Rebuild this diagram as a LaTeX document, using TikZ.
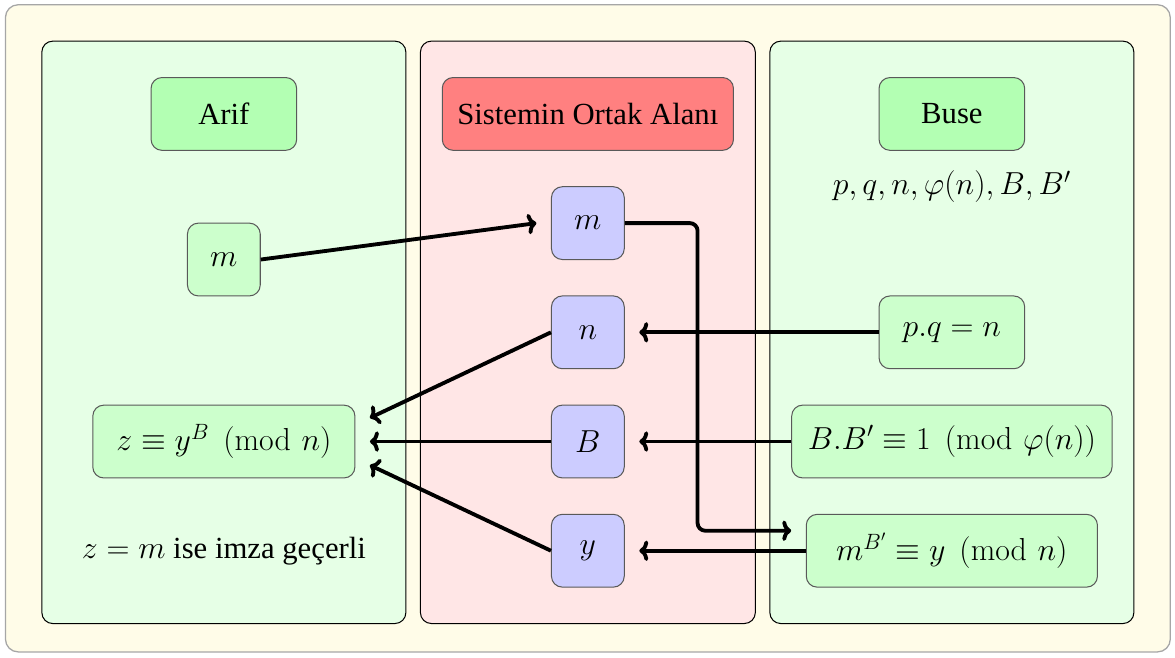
\documentclass[tikz,border=0pt]{standalone}
\usepackage{amsmath}
\usepackage[no-math]{fontspec}
\setmainfont{Liberation Serif}
\usetikzlibrary{calc,arrows.meta}
\definecolor{bgcream}{RGB}{255,252,232}
\definecolor{panelgreen}{RGB}{230,255,230}
\definecolor{panelred}{RGB}{255,230,230}
\definecolor{titlegreen}{RGB}{179,255,179}
\definecolor{titlered}{RGB}{255,128,128}
\definecolor{nodeblue}{RGB}{204,204,255}
\definecolor{nodegreen}{RGB}{204,255,204}
\begin{document}
\begin{tikzpicture}[
  every node/.style={font=\fontsize{24}{29}\selectfont},
  panel/.style={draw=black, line width=0.8pt, rounded corners=0.3cm},
  box/.style={draw=black!65, line width=0.8pt, rounded corners=0.3cm,
    minimum height=2cm, minimum width=2cm, inner sep=0pt},
  titleg/.style={box, fill=titlegreen, minimum width=4cm},
  titler/.style={box, fill=titlered, minimum width=8cm},
  bluebox/.style={box, fill=nodeblue},
  greenbox/.style={box, fill=nodegreen},
  arr/.style={line width=3pt, -{To[length=7pt,width=16pt]}},
]
\useasboundingbox (-16.15,3.13) rectangle (16.13,-14.92);
\draw[gray!70, line width=1pt, fill=bgcream, rounded corners=0.35cm] (-16,3) rectangle (16,-14.78);
\draw[panel, fill=panelgreen] (-15,2) rectangle (-5,-14);
\draw[panel, fill=panelred] (-4.6,2) rectangle (4.6,-14);
\draw[panel, fill=panelgreen] (5,2) rectangle (15,-14);

\node[titleg] (arif) at (-10,0) {Arif};
\node[titler] (sys) at (0,0) {Sistemin Ortak Alanı};
\node[titleg] (buse) at (10,0) {Buse};
\node (keys) at (10,-2) {$p,q,n,\varphi(n),B,B'$};

\node[greenbox] (mL) at (-10,-4) {$m$};
\node[bluebox] (mM) at (0,-3) {$m$};
\node[bluebox] (n) at (0,-6) {$n$};
\node[bluebox] (B) at (0,-9) {$B$};
\node[bluebox] (y) at (0,-12) {$y$};

\node[greenbox, minimum width=4cm] (pq) at (10,-6) {$p.q=n$};
\node[greenbox, minimum width=7.2cm] (z) at (-10,-9) {$z\equiv y^B \pmod{n}$};
\node[greenbox, minimum width=8.8cm] (BB) at (10,-9) {$B.B'\equiv 1 \pmod{\varphi(n)}$};
\node[greenbox, minimum width=8cm] (mb) at (10,-12) {$m^{B'}\equiv y \pmod{n}$};
\node (check) at (-10,-12) {$z=m$ ise imza geçerli};

\coordinate (mMin) at ($(mM.west)+(-0.4,0)$);
\coordinate (nin) at ($(n.east)+(0.4,0)$);
\coordinate (Bin) at ($(B.east)+(0.4,0)$);
\coordinate (yin) at ($(y.east)+(0.4,0)$);
\coordinate (mbin) at ($(mb.west)+(-0.4,0.55)$);
\coordinate (zin1) at ($(z.east)+(0.4,0.65)$);
\coordinate (zin2) at ($(z.east)+(0.4,0)$);
\coordinate (zin3) at ($(z.east)+(0.4,-0.65)$);

\draw[arr] (mL.east) -- (mMin);
\draw[arr, rounded corners=6pt] (mM.east) -- ++(2,0) |- (mbin);
\draw[arr] (pq.west) -- (nin);
\draw[arr] (BB.west) -- (Bin);
\draw[arr] (mb.west) -- (yin);
\draw[arr] (n.west) -- (zin1);
\draw[arr] (B.west) -- (zin2);
\draw[arr] (y.west) -- (zin3);
\end{tikzpicture}
\end{document}
